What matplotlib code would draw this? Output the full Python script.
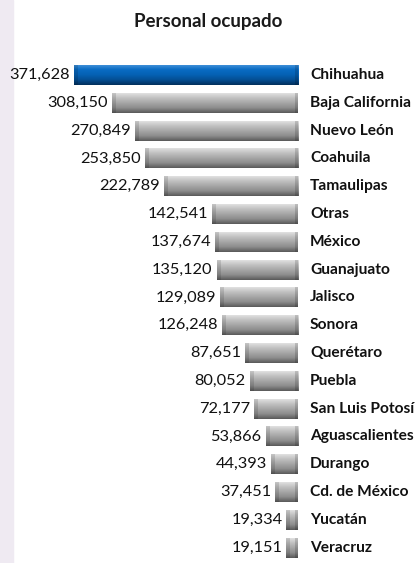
import matplotlib
matplotlib.use("Agg")
import matplotlib.pyplot as plt
import numpy as np
from matplotlib.colors import LinearSegmentedColormap
from matplotlib.patches import Rectangle

states = ["Chihuahua", "Baja California", "Nuevo León", "Coahuila", "Tamaulipas",
          "Otras", "México", "Guanajuato", "Jalisco", "Sonora", "Querétaro",
          "Puebla", "San Luis Potosí", "Aguascalientes", "Durango",
          "Cd. de México", "Yucatán", "Veracruz"]
values = [371628, 308150, 270849, 253850, 222789, 142541, 137674, 135120,
          129089, 126248, 87651, 80052, 72177, 53866, 44393, 37451, 19334, 19151]
highlight = "Chihuahua"

W, H = 416, 563
fig = plt.figure(figsize=(W / 100, H / 100), dpi=100)
fig.patch.set_facecolor("white")
fig.add_artist(Rectangle((0, 0), 13 / W, 1, transform=fig.transFigure,
                         color="#EFEAF2", zorder=0))

font = ["Lato", "DejaVu Sans"]
fig.text(208 / W, 1 - 22 / H, "Personal ocupado", ha="center", va="center",
         fontsize=13.5, fontweight="bold", family=font, color="#1a1a1a")

n = len(states)
row = 27.8
top_px = 75 - row / 2
ax_h = n * row
ax_left, ax_right = 13, 298
ax = fig.add_axes([ax_left / W, 1 - (top_px + ax_h) / H, (ax_right - ax_left) / W, ax_h / H])
scale = 224 / 371628
xmax = (ax_right - ax_left) / scale
ax.set_xlim(xmax, 0)
ax.set_ylim(n - 0.5, -0.5)
ax.axis("off")

y = np.arange(n)
bars = ax.barh(y, values, height=0.72, color="none", edgecolor="none")

grey = LinearSegmentedColormap.from_list("g", ["#E8E8E8", "#C4C4C4", "#A8A8A8", "#8E8E8E", "#5A5A5A"])
blue = LinearSegmentedColormap.from_list("b", ["#4A97DC", "#0A6CC4", "#0562B5", "#044F94", "#02305C"])
grad = np.linspace(0, 1, 64).reshape(-1, 1)

for b, name, v in zip(bars, states, values):
    x0, y0 = b.get_x(), b.get_y()
    w, h = b.get_width(), b.get_height()
    cmap = blue if name == highlight else grey
    im = ax.imshow(grad, cmap=cmap, aspect="auto", extent=(x0, x0 + w, y0 + h, y0),
                   origin="upper", zorder=2, interpolation="bilinear")
    im.set_clip_path(b)
    end = min(w, 4 / scale)
    ax.add_patch(Rectangle((x0 + w - end, y0), end, h,
                           color="black", alpha=0.12, lw=0, zorder=3))
    ax.add_patch(Rectangle((x0, y0), min(w, 3 / scale), h,
                           color="black", alpha=0.15, lw=0, zorder=3))
    ax.text(v + 4 / scale, b.get_y() + h / 2, f"{v:,}", ha="right", va="center",
            fontsize=11.8, family=font, color="#111111")
    ax.text(-12 / scale, b.get_y() + h / 2, name, ha="left", va="center",
            fontsize=11.2, fontweight="bold", family=font, color="#111111")

fig.savefig("out.png", dpi=100, facecolor="white")
